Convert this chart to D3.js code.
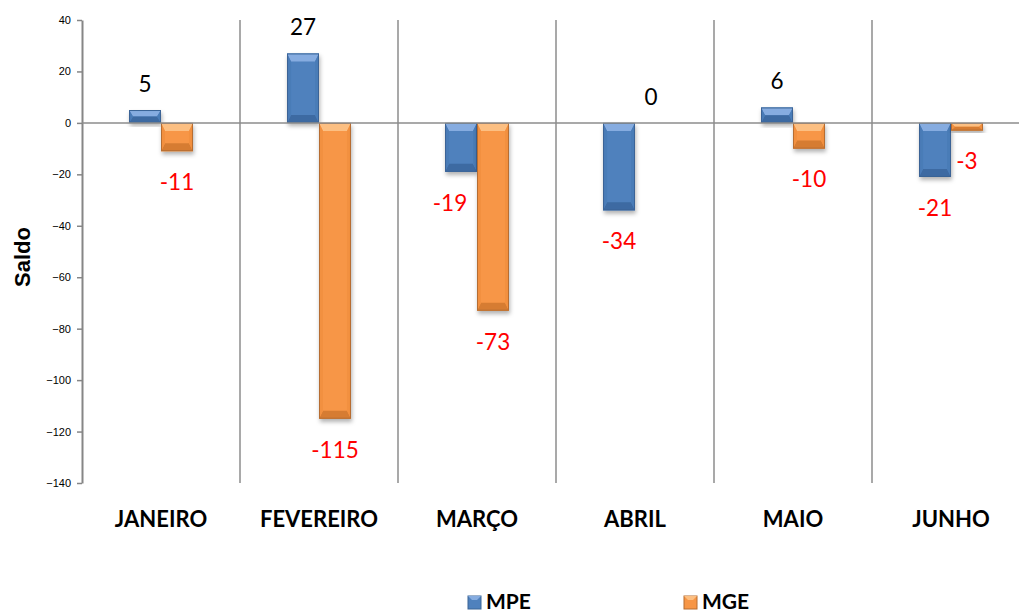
<!DOCTYPE html>
<html>
<head>
<meta charset="utf-8">
<script src="https://cdn.jsdelivr.net/npm/d3@7"></script>
<style>
	body{margin:0;background:#fff;}
	svg{display:block;font-family:Lato,'Open Sans',sans-serif;}
	.tick text{font-size:11px;fill:#000;}
</style>
</head>
<body>
<svg id="chart" width="1019" height="612"></svg>
<script>
var months = ['JANEIRO', 'FEVEREIRO', 'MARÇO', 'ABRIL', 'MAIO', 'JUNHO'];
var seriesNames = ['MPE', 'MGE'];
var mpeValues = [5, 27, -19, -34, 6, -21];
var mgeValues = [-11, -115, -73, 0, -10, -3];
var yTicks = [40, 20, 0, -20, -40, -60, -80, -100, -120, -140];

var palette = {
	MPE: {base: '#4f81bd', light: '#86ace0', mid: '#4a7bb7', dark: '#3d6aa2', edge: '#3a6496'},
	MGE: {base: '#f79646', light: '#fcbf82', mid: '#f2903f', dark: '#d67c33', edge: '#b66d31'}
};

var svg = d3.select('#chart');
var margin = {top: 20, left: 82, bottom: 129, right: -11};
var width = 1019 - margin.left - margin.right;
var height = 612 - margin.top - margin.bottom;

var rows = months.map(function(m, i){
	return {month: m, MPE: mpeValues[i], MGE: mgeValues[i]};
});

var x0 = d3.scaleBand().domain(months).range([0, width]).padding(0);
var x1 = d3.scaleBand().domain(seriesNames).range([0, x0.bandwidth()]).paddingInner(0).paddingOuter(1.47);
var y = d3.scaleLinear().domain([-140, 40]).range([height, 0]);

var defs = svg.append('defs');
var f = defs.append('filter').attr('id', 'shadow').attr('x', '-30%').attr('y', '-30%').attr('width', '160%').attr('height', '160%');
f.append('feDropShadow').attr('dx', 1).attr('dy', 3).attr('stdDeviation', 2).attr('flood-color', '#000').attr('flood-opacity', 0.3);

var g = svg.append('g').attr('transform', 'translate(' + margin.left + ',' + margin.top + ')');

// separadores verticais entre meses
g.selectAll('.sep')
	.data(months.slice(1))
	.enter()
	.append('line')
	.attr('class', 'sep')
	.attr('x1', function(d){ return x0(d); })
	.attr('x2', function(d){ return x0(d); })
	.attr('y1', 0)
	.attr('y2', height)
	.attr('stroke', '#8c8c8c')
	.attr('stroke-width', 1.5);

// eixo y
var yAxis = g.append('g')
	.call(d3.axisLeft(y).tickValues(yTicks).tickSize(5).tickPadding(6).tickSizeOuter(0));
yAxis.select('.domain').attr('stroke', '#868686').attr('stroke-width', 2);
yAxis.selectAll('.tick line').attr('stroke', '#868686').attr('stroke-width', 1.5);

// barras com efeito bisel
var bars = [];
rows.forEach(function(r){
	seriesNames.forEach(function(s){
		bars.push({month: r.month, series: s, value: r[s], row: r});
	});
});

var barG = g.selectAll('.bar')
	.data(bars.filter(function(d){ return d.value != 0; }))
	.enter()
	.append('g')
	.attr('class', 'bar')
	.attr('filter', 'url(#shadow)');

barG.each(function(d){
	var node = d3.select(this);
	var c = palette[d.series];
	var bx = x0(d.month) + x1(d.series);
	var bw = x1.bandwidth();
	var by = y(Math.max(0, d.value));
	var bh = Math.abs(y(d.value) - y(0));
	var bv = Math.min(8, bh / 2);   // bisel vertical
	var bs = Math.min(4, bw / 2);   // bisel lateral
	node.append('rect').attr('x', bx).attr('y', by).attr('width', bw).attr('height', bh).attr('fill', c.base);
	var faces = [
		[[bx, by], [bx + bw, by], [bx + bw - bs, by + bv], [bx + bs, by + bv], c.light],
		[[bx, by + bh], [bx + bw, by + bh], [bx + bw - bs, by + bh - bv], [bx + bs, by + bh - bv], c.dark],
		[[bx, by], [bx + bs, by + bv], [bx + bs, by + bh - bv], [bx, by + bh], c.mid],
		[[bx + bw, by], [bx + bw - bs, by + bv], [bx + bw - bs, by + bh - bv], [bx + bw, by + bh], c.mid]
	];
	faces.forEach(function(p){
		node.append('polygon')
			.attr('points', p.slice(0, 4).map(function(q){ return q.join(','); }).join(' '))
			.attr('fill', p[4]);
	});
	node.append('rect').attr('x', bx + 0.5).attr('y', by + 0.5).attr('width', bw - 1).attr('height', Math.max(0, bh - 1))
		.attr('fill', 'none').attr('stroke', c.edge).attr('stroke-width', 1);
});

// linha do zero
g.append('line')
	.attr('x1', 0).attr('x2', width)
	.attr('y1', y(0)).attr('y2', y(0))
	.attr('stroke', '#8c8c8c').attr('stroke-width', 1.5);

// rótulos de valores
function labelY(d){
	return d.value >= 0 ? y(d.value) - 26 : y(d.value) + 31;
}
g.selectAll('.val')
	.data(bars)
	.enter()
	.append('text')
	.attr('class', 'val')
	.attr('x', function(d){
		var cx = x0(d.month) + x1(d.series) + x1.bandwidth() / 2;
		// afasta o rótulo da barra vizinha quando ela passa por baixo dele
		if(d.series == 'MPE' && d.value < 0 && y(d.row.MGE) > labelY(d) - 10){
			cx -= 11;
		}
		return cx;
	})
	.attr('y', labelY)
	.attr('dy', '0.35em')
	.attr('text-anchor', 'middle')
	.attr('font-size', 22.5)
	.attr('fill', function(d){ return d.value < 0 ? '#ff0000' : '#000'; })
	.text(function(d){ return d.value; });

// rótulos dos meses
g.selectAll('.cat')
	.data(months)
	.enter()
	.append('text')
	.attr('class', 'cat')
	.attr('x', function(d){ return x0(d) + x0.bandwidth() / 2; })
	.attr('y', height + 36)
	.attr('dy', '0.35em')
	.attr('text-anchor', 'middle')
	.attr('font-size', 22)
	.attr('font-weight', 'bold')
	.text(function(d){ return d; });

// título do eixo
svg.append('text')
	.attr('transform', 'translate(30,257) rotate(-90)')
	.attr('text-anchor', 'middle')
	.attr('font-family', "'Liberation Sans', Arial, sans-serif")
	.attr('font-size', 22)
	.attr('font-weight', 'bold')
	.text('Saldo');

// legenda
var legendX = [468, 684];
var legend = svg.selectAll('.legend')
	.data(seriesNames)
	.enter()
	.append('g')
	.attr('class', 'legend')
	.attr('transform', function(d, i){ return 'translate(' + legendX[i] + ',596)'; });
legend.append('rect').attr('width', 13).attr('height', 13)
	.attr('fill', function(d){ return palette[d].base; })
	.attr('stroke', function(d){ return palette[d].edge; });
legend.append('polygon').attr('points', '0,0 13,0 9,4 4,4')
	.attr('fill', function(d){ return palette[d].light; });
legend.append('text')
	.attr('x', 18).attr('y', 6).attr('dy', '0.35em')
	.attr('font-size', 21).attr('font-weight', 'bold')
	.text(function(d){ return d; });
</script>
</body>
</html>
